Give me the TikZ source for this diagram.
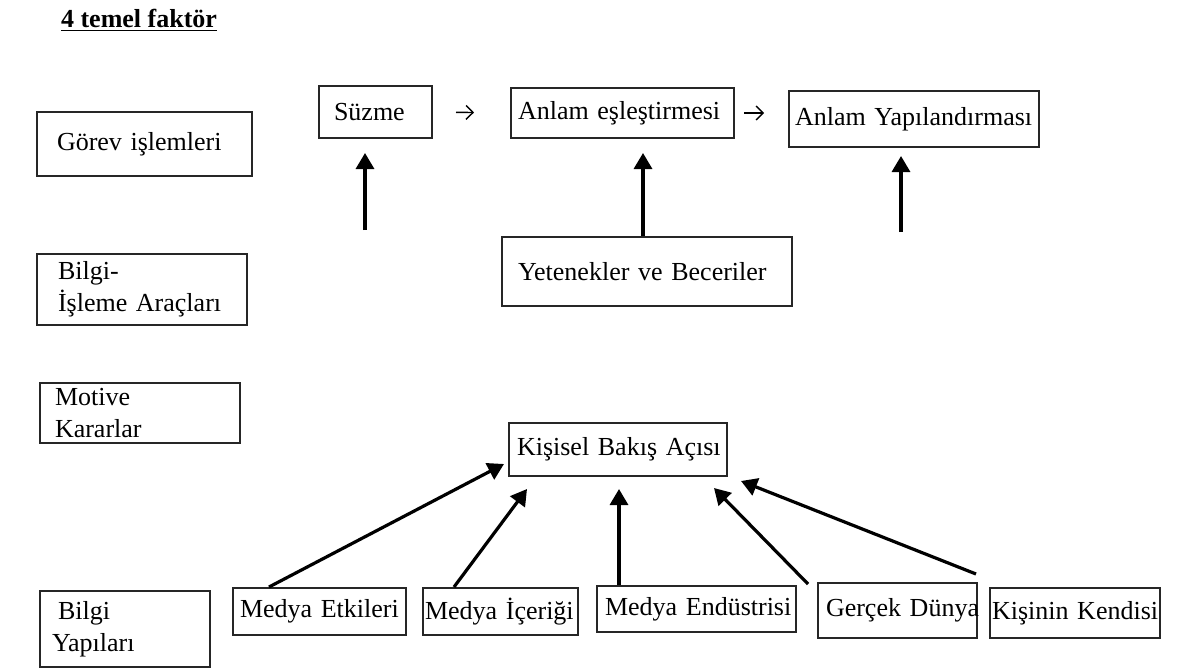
\documentclass[tikz,border=0pt]{standalone}
\usepackage{fontspec}
\setmainfont{Liberation Serif}
\usetikzlibrary{arrows.meta,calc}

\begin{document}
\begin{tikzpicture}[x=0.5pt,y=-0.5pt]
\tikzstyle{kutu}=[draw=black!85,line width=1pt,inner ysep=0pt,align=left,font=\fontsize{13}{16}\selectfont,execute at begin node={\hyphenpenalty=10000\exhyphenpenalty=10000\relax}]
\tikzstyle{kalin}=[-{Triangle[length=8pt,width=9pt]},line width=1.6pt]
\tikzstyle{ince}=[-{Straight Barb[length=3.5pt,width=7pt]},line width=0.7pt]
\useasboundingbox (0,0) rectangle (1177,669);
\node[anchor=base west,font=\fontsize{13}{16}\selectfont\bfseries] (baslik) at (54,27) {\underline{4 temel faktör}};
% sol sutun
\node[kutu,text width=87.5pt,inner xsep=10pt,minimum height=32pt] (gorev) at (144.5,144) {Görev işlemleri};
\node[kutu,text width=84pt,inner xsep=10.5pt,minimum height=35.5pt] (isleme) at (142,289.5) {Bilgi-\\İşleme Araçları};
\node[kutu,text width=85pt,inner xsep=7.5pt,minimum height=30pt] (motive) at (140,413) {Motive\\Kararlar};
\node[kutu,text width=73pt,inner xsep=6pt,minimum height=38pt] (yapilar) at (125,629) {\hspace*{3pt}Bilgi\\Yapıları};
% gorevler
\node[kutu,text width=41.5pt,inner xsep=7.5pt,minimum height=26pt] (suzme) at (375.5,112) {Süzme};
\node[kutu,text width=104.5pt,inner xsep=3.5pt,minimum height=25pt] (eslestirme) at (622.5,113) {Anlam~eşleştirmesi};
\node[kutu,text width=119pt,inner xsep=3pt,minimum height=28pt] (yapilandirma) at (914,119) {Anlam~Yapılandırması};
\node[kutu,text width=129pt,inner xsep=8pt,minimum height=34.5pt] (yetenek) at (647,271.5) {Yetenekler ve Beceriler};
\node[kutu,text width=101pt,inner xsep=4pt,minimum height=26.5pt] (kisisel) at (618,449.5) {Kişisel~Bakış~Açısı};
% bilgi yapilari
\node[kutu,text width=79.5pt,inner xsep=3.5pt,minimum height=23.5pt] (etkiler) at (319.5,611.5) {Medya~Etkileri};
\node[kutu,text width=75.5pt,inner xsep=1pt,minimum height=23.5pt] (icerik) at (500.5,611.5) {Medya~İçeriği};
\node[kutu,text width=91.5pt,inner xsep=4pt,minimum height=23pt] (endustri) at (696.5,609) {Medya~Endüstrisi};
\node[kutu,text width=71.5pt,inner xsep=4pt,minimum height=27.5pt] (gercek) at (897.5,610.5) {Gerçek~Dünya};
\node[kutu,text width=83pt,inner xsep=1pt,minimum height=25pt] (kendisi) at (1075,613) {Kişinin~Kendisi};
% oklar
\draw[ince,shorten <=11.5pt,shorten >=18pt] (suzme.east) -- (eslestirme.west);
\draw[ince,shorten <=4.5pt,shorten >=12pt] (eslestirme.east) -- (eslestirme.east -| yapilandirma.west);
\coordinate (sol) at (365,230);
\coordinate (sag) at (901,232);
\draw[kalin,shorten >=7pt] (sol) -- (sol |- suzme.south);
\draw[kalin,shorten >=7pt] ([xshift=-2pt]yetenek.north) -- ([xshift=-2pt]yetenek.north |- eslestirme.south);
\draw[kalin,shorten >=4pt] (sag) -- (sag |- yapilandirma.south);
\draw[kalin] ($(etkiler.north west)+(37,0)$) -- ($(kisisel.south west)+(-4,-13)$);
\draw[kalin] ($(icerik.north west)+(32,0)$) -- ($(kisisel.south west)+(19,12)$);
\draw[kalin,shorten >=6pt] ($(endustri.north west)+(23,0)$) coordinate (e) -- (e |- kisisel.south);
\draw[kalin] ($(gercek.north west)+(-9,2)$) -- ($(kisisel.south east)+(-14,11)$);
\draw[kalin] ($(kendisi.north west)+(-13,-13)$) -- ($(kisisel.south east)+(13,4)$);
\end{tikzpicture}
\end{document}
